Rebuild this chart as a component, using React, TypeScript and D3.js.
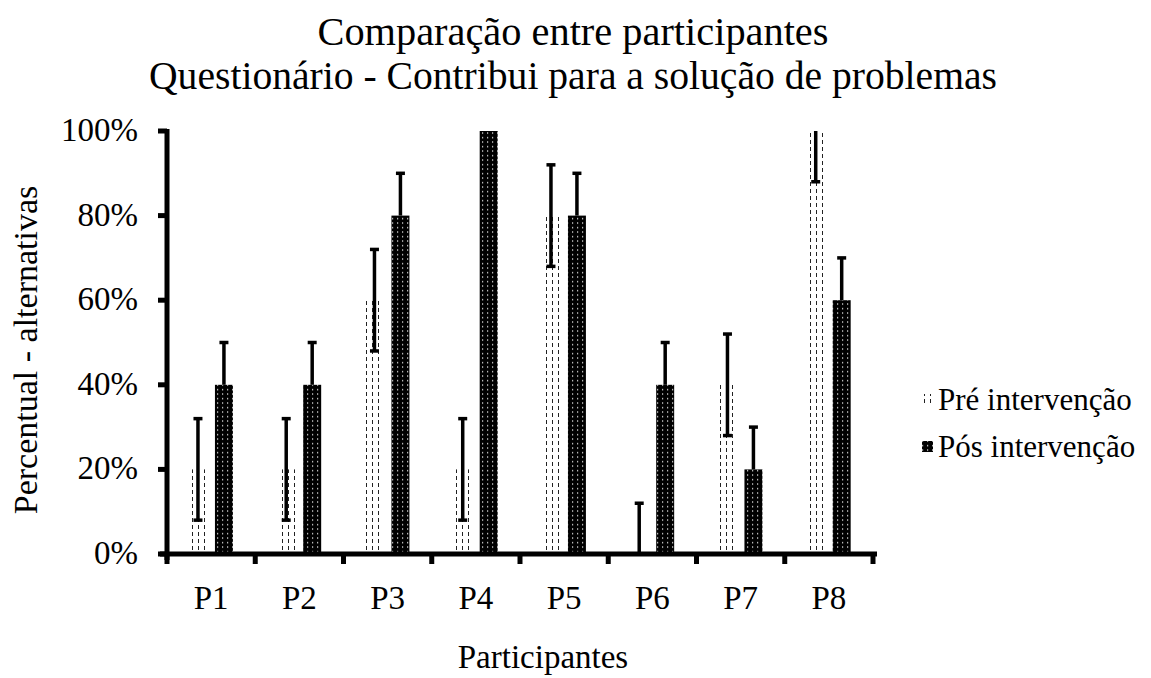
import React from "react";
import * as d3 from "d3";

const categories = ["P1", "P2", "P3", "P4", "P5", "P6", "P7", "P8"];
const preValues = [20, 20, 60, 20, 80, 0, 40, 100];
const postValues = [40, 40, 80, 100, 80, 40, 20, 60];
const preErr = [12, 12, 12, 12, 12, 12, 12, 12];
const postErr = [10, 10, 10, 10, 10, 10, 10, 10];
const yTicks = [0, 20, 40, 60, 80, 100];
const seriesNames = ["Pré intervenção", "Pós intervenção"];

const W = 1151;
const H = 678;
const left = 167;
const right = 873;
const top = 131;
const bottom = 554;
const font = "'Liberation Serif', 'Times New Roman', serif";

export default function App() {
  const x = d3.scaleBand<string>().domain(categories).range([left, right]).padding(0);
  const inner = d3
    .scaleBand<string>()
    .domain(["pre", "post"])
    .range([x.bandwidth() * 0.249, x.bandwidth() * 0.747])
    .paddingInner(0.3077);
  const y = d3.scaleLinear().domain([0, 100]).range([bottom, top]);
  const bw = inner.bandwidth();
  const cap = 9;
  const ew = 3.5;

  const boundaries = categories.map((c) => x(c)!).concat([right]);

  return (
    <svg width={W} height={H} style={{ position: "absolute", left: 0, top: 0, background: "#fff" }}>
      <defs>
        <pattern id="prePat" width={6} height={7} patternUnits="userSpaceOnUse">
          <rect width={6} height={7} fill="#fff" />
          <rect x={0} y={0} width={1} height={4} fill="#222" />
        </pattern>
        <pattern id="postPat" width={5} height={4.5} patternUnits="userSpaceOnUse">
          <rect width={5} height={4.5} fill="#000" />
          <rect x={2} y={2} width={1.2} height={1.2} fill="#fff" />
        </pattern>
      </defs>
      <rect width={W} height={H} fill="#fff" />

      {/* Title */}
      <text x={573} y={45} textAnchor="middle" fontFamily={font} fontSize={40} textLength={511} lengthAdjust="spacingAndGlyphs">
        Comparação entre participantes
      </text>
      <text x={573} y={89} textAnchor="middle" fontFamily={font} fontSize={40} textLength={848} lengthAdjust="spacingAndGlyphs">
        Questionário - Contribui para a solução de problemas
      </text>

      {/* Bars */}
      {categories.map((c, i) => {
        const x0 = x(c)!;
        const xp = x0 + inner("pre")!;
        const xq = x0 + inner("post")!;
        return (
          <g key={c}>
            {preValues[i] > 0 && (
              <rect x={xp} y={y(preValues[i])} width={bw} height={bottom - y(preValues[i])} fill="url(#prePat)" />
            )}
            <rect x={xq} y={y(postValues[i])} width={bw} height={bottom - y(postValues[i])} fill="url(#postPat)" />
          </g>
        );
      })}

      {/* Error bars */}
      {categories.map((c, i) => {
        const x0 = x(c)!;
        const cp = x0 + inner("pre")! + bw / 2;
        const cq = x0 + inner("post")! + bw / 2;
        const pHi = Math.min(100, preValues[i] + preErr[i]);
        const pLo = Math.max(0, preValues[i] - preErr[i]);
        const qHi = Math.min(100, postValues[i] + postErr[i]);
        return (
          <g key={"e" + c} stroke="#000" strokeWidth={ew}>
            <line x1={cp} x2={cp} y1={y(pLo)} y2={y(pHi)} />
            {pHi < 100 && <line x1={cp - cap / 2} x2={cp + cap / 2} y1={y(pHi)} y2={y(pHi)} />}
            {pLo > 0 && <line x1={cp - cap / 2} x2={cp + cap / 2} y1={y(pLo)} y2={y(pLo)} />}
            <line x1={cq} x2={cq} y1={y(postValues[i])} y2={y(qHi)} />
            {qHi < 100 && <line x1={cq - cap / 2} x2={cq + cap / 2} y1={y(qHi)} y2={y(qHi)} />}
          </g>
        );
      })}

      {/* Y axis */}
      <line x1={left} x2={left} y1={top - 2} y2={bottom + 6} stroke="#000" strokeWidth={5} />
      {yTicks.map((t) => (
        <g key={t}>
          <line x1={left - 9} x2={left} y1={y(t)} y2={y(t)} stroke="#000" strokeWidth={5} />
          <text x={138} y={y(t) + 10} textAnchor="end" fontFamily={font} fontSize={33}>
            {t}%
          </text>
        </g>
      ))}

      {/* X axis */}
      <line x1={left - 7} x2={right + 4} y1={bottom} y2={bottom} stroke="#000" strokeWidth={5} />
      {boundaries.map((b, i) => (
        <line key={i} x1={b} x2={b} y1={bottom} y2={bottom + 10} stroke="#000" strokeWidth={5} />
      ))}
      {categories.map((c) => (
        <text key={"l" + c} x={x(c)! + x.bandwidth() / 2} y={609} textAnchor="middle" fontFamily={font} fontSize={33}>
          {c}
        </text>
      ))}

      {/* Axis titles */}
      <text x={543} y={668} textAnchor="middle" fontFamily={font} fontSize={33}>
        Participantes
      </text>
      <text transform={`translate(37, 350) rotate(-90)`} textAnchor="middle" fontFamily={font} fontSize={34}>
        Percentual - alternativas
      </text>

      {/* Legend */}
      {seriesNames.map((s, i) => (
        <g key={s} transform={`translate(0, ${i * 47})`}>
          <rect x={922} y={394} width={11} height={11} fill={i === 0 ? "url(#prePat)" : "url(#postPat)"} />
          <text x={938} y={410} fontFamily={font} fontSize={31}>
            {s}
          </text>
        </g>
      ))}
    </svg>
  );
}
